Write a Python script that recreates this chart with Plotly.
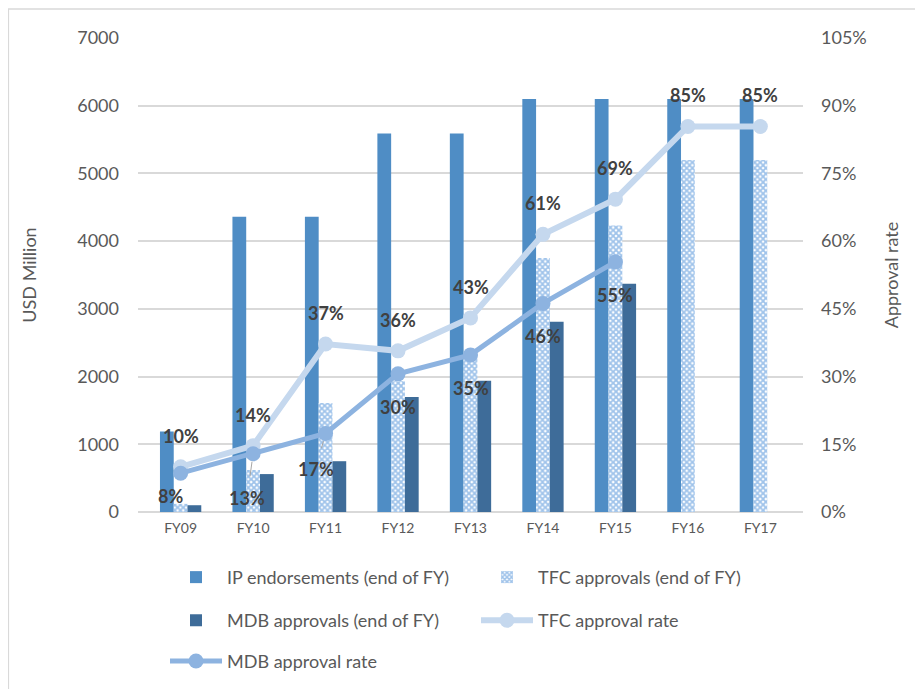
import plotly.graph_objects as go

years = ["FY09", "FY10", "FY11", "FY12", "FY13", "FY14", "FY15", "FY16", "FY17"]
ip_endorse = [1190, 4360, 4360, 5590, 5590, 6100, 6100, 6100, 6100]
tfc_approvals = [120, 620, 1610, 1930, 2330, 3750, 4230, 5200, 5200]
mdb_approvals = [100, 560, 750, 1700, 1940, 2810, 3370, None, None]
tfc_rate = [0.10, 0.147, 0.372, 0.357, 0.43, 0.615, 0.693, 0.854, 0.854]
mdb_rate = [0.086, 0.129, 0.174, 0.306, 0.348, 0.462, 0.554, None, None]
tfc_labels = ["10%", "14%", "37%", "36%", "43%", "61%", "69%", "85%", "85%"]
mdb_labels = ["8%", "13%", "17%", "30%", "35%", "46%", "55%", None, None]

FONT = "Lato"
TXT = "#595959"
LBL = "#404040"

fig = go.Figure()
fig.add_trace(go.Bar(x=years, y=ip_endorse, name="IP endorsements (end of FY)", legend="legend",
                     marker=dict(color="#4F8DC5", line=dict(width=0))))
fig.add_trace(go.Bar(x=years, y=tfc_approvals, name="TFC approvals (end of FY)", legend="legend",
                     marker=dict(color="white", line=dict(width=0),
                                 pattern=dict(shape="x", fgcolor="#3F87D6", bgcolor="white",
                                              size=4, solidity=0.7))))
fig.add_trace(go.Bar(x=years, y=mdb_approvals, name="MDB approvals (end of FY)", legend="legend2",
                     marker=dict(color="#3E6C99", line=dict(width=0))))
fig.add_trace(go.Scatter(x=years, y=tfc_rate, name="TFC approval rate", yaxis="y2", legend="legend2",
                         mode="lines+markers",
                         line=dict(color="#C5D8EE", width=6),
                         marker=dict(color="#C5D8EE", size=15)))
fig.add_trace(go.Scatter(x=years, y=mdb_rate, name="MDB approval rate", yaxis="y2", legend="legend3",
                         mode="lines+markers",
                         line=dict(color="#8DB3E0", width=5),
                         marker=dict(color="#8DB3E0", size=15)))

annotations = []
for xv, yv, t in zip(years, tfc_rate, tfc_labels):
    annotations.append(dict(x=xv, y=yv, xref="x", yref="y2", text=t, showarrow=False,
                            yshift=31, font=dict(family=FONT, size=18, color=LBL, weight="bold")))
mdb_shift = {0: (-10, -23), 1: (-6, -44), 2: (-10, -36)}
for i, (xv, yv, t) in enumerate(zip(years, mdb_rate, mdb_labels)):
    if t is None:
        continue
    xs, ys = mdb_shift.get(i, (0, -33))
    ann = dict(x=xv, y=yv, xref="x", yref="y2", text=t,
               font=dict(family=FONT, size=18, color=LBL, weight="bold"))
    if i in (1, 2):
        ann.update(showarrow=True, arrowhead=0, arrowwidth=1, arrowcolor="#A6A6A6",
                   ax=xs, ay=-ys, standoff=8, startstandoff=9)
    else:
        ann.update(showarrow=False, xshift=xs, yshift=ys)
    annotations.append(ann)

leg_common = dict(orientation="h", xanchor="left", yanchor="top", entrywidth=244,
                  entrywidthmode="pixels", itemwidth=52, font=dict(size=18, color=TXT),
                  traceorder="normal", bgcolor="rgba(0,0,0,0)")

fig.update_layout(
    width=915, height=681,
    margin=dict(l=130, r=120, t=30, b=177, autoexpand=False),
    paper_bgcolor="white", plot_bgcolor="white",
    barmode="group", bargap=0.43, bargroupgap=0,
    font=dict(family=FONT, color=TXT),
    xaxis=dict(showgrid=False, showline=False, ticks="", tickfont=dict(size=14, color=TXT),
               zeroline=False, ticklabelstandoff=6),
    yaxis=dict(range=[0, 7000], dtick=1000, showgrid=True, gridcolor="#D9D9D9", gridwidth=1.5,
               zeroline=True, zerolinecolor="#D9D9D9", zerolinewidth=1.5,
               tickfont=dict(size=18, color=TXT), ticklabelstandoff=18,
               title=dict(text="USD Million", font=dict(size=18, color=TXT), standoff=35)),
    yaxis2=dict(range=[0, 1.05], dtick=0.15, tickformat=".0%", overlaying="y", side="right",
                showgrid=False, zeroline=False, tickfont=dict(size=18, color=TXT),
                ticklabelstandoff=17,
                title=dict(text="Approval rate", font=dict(size=18, color=TXT), standoff=19)),
    legend=dict(x=0.0406, y=-0.099, **leg_common),
    legend2=dict(x=0.0406, y=-0.190, **leg_common),
    legend3=dict(x=0.0406, y=-0.276, **leg_common),
    annotations=annotations,
    shapes=[dict(type="rect", xref="paper", yref="paper", x0=-0.195, x1=1.2, y0=-0.39, y1=1.061,
                 line=dict(color="#D9D9D9", width=1.5), fillcolor="rgba(0,0,0,0)", layer="below")],
    showlegend=True,
)

fig.write_html("out.html")
